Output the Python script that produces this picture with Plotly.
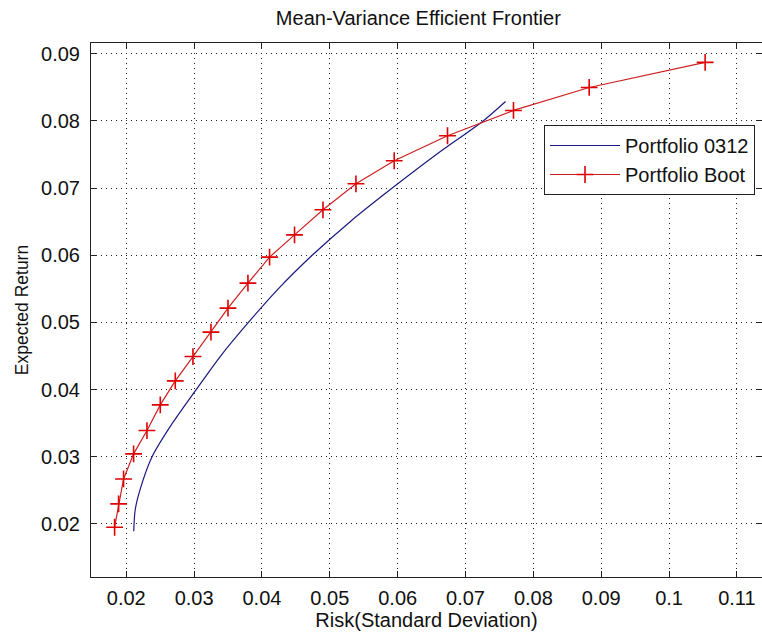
import plotly.graph_objects as go

# Portfolio 0312 (blue line)
p0312_risk = [0.0211, 0.0213, 0.0220, 0.0238, 0.0268, 0.0303, 0.0339, 0.0380,
              0.0424, 0.0474, 0.0530, 0.0592, 0.0657, 0.0726, 0.0759]
p0312_ret = [0.0189, 0.0220, 0.0250, 0.0300, 0.0350, 0.0400, 0.0450, 0.0500,
             0.0550, 0.0600, 0.0650, 0.0700, 0.0750, 0.0800, 0.0829]

# Portfolio Boot (red line with + markers)
boot_risk = [0.01828, 0.01887, 0.01960, 0.02108, 0.02305, 0.02501, 0.02722, 0.02983,
             0.03248, 0.03499, 0.03793, 0.04112, 0.04480, 0.04899, 0.05385, 0.05949,
             0.06735, 0.07707, 0.08823, 0.10532]
boot_ret = [0.01951, 0.02298, 0.02670, 0.03043, 0.03390, 0.03772, 0.04130, 0.04492,
            0.04855, 0.05213, 0.05585, 0.05972, 0.06304, 0.06677, 0.07064, 0.07407,
            0.07779, 0.08156, 0.08498, 0.08871]

x_ticks = [0.02, 0.03, 0.04, 0.05, 0.06, 0.07, 0.08, 0.09, 0.1, 0.11]
x_tick_text = ["0.02", "0.03", "0.04", "0.05", "0.06", "0.07", "0.08", "0.09", "0.1", "0.11"]
y_ticks = [0.02, 0.03, 0.04, 0.05, 0.06, 0.07, 0.08, 0.09]
y_tick_text = ["0.02", "0.03", "0.04", "0.05", "0.06", "0.07", "0.08", "0.09"]

FONT = "Liberation Sans, Arial, sans-serif"

fig = go.Figure()
fig.add_trace(go.Scatter(
    x=p0312_risk, y=p0312_ret, mode="lines", name="Portfolio 0312",
    line=dict(color="#1a1a80", width=1.2, shape="spline", smoothing=0.7),
))
fig.add_trace(go.Scatter(
    x=boot_risk, y=boot_ret, mode="lines+markers", name="Portfolio Boot",
    line=dict(color="#cc2020", width=1.2),
    marker=dict(symbol="cross-thin-open", size=12, color="#e00000",
                line=dict(color="#e00000", width=1.6)),
))

axis_common = dict(
    showline=True, linecolor="#222", linewidth=1, mirror="ticks",
    ticks="inside", ticklen=6, tickcolor="#222", tickwidth=1,
    showgrid=True, gridcolor="#222", gridwidth=1, griddash="1px,4px",
    zeroline=False, tickfont=dict(family=FONT, size=20, color="#111"),
)

fig.update_layout(
    width=762, height=635,
    margin=dict(l=91, r=0, t=43, b=58),
    paper_bgcolor="white", plot_bgcolor="white",
    title=dict(text="Mean-Variance Efficient Frontier", x=0.549, xanchor="center",
               y=1 - 18 / 635, yref="container", yanchor="middle",
               font=dict(family=FONT, size=20, color="#111")),
    xaxis=dict(range=[0.0148, 0.1137], tickvals=x_ticks, ticktext=x_tick_text,
               ticklabelstandoff=3,
               title=dict(text="Risk(Standard Deviation)", standoff=4,
                          font=dict(family=FONT, size=20, color="#111")),
               **axis_common),
    yaxis=dict(range=[0.0121, 0.0916], tickvals=y_ticks, ticktext=y_tick_text,
               ticklabelstandoff=6,
               title=dict(text="Expected Return", standoff=7,
                          font=dict(family=FONT, size=17.5, color="#111")),
               **axis_common),
    legend=dict(x=0.9896, xanchor="right", y=0.8464, yanchor="top",
                bgcolor="white", bordercolor="#222", borderwidth=1,
                font=dict(family=FONT, size=20, color="#111"),
                itemwidth=70, tracegroupgap=0),
    showlegend=True,
)

fig.write_html("out.html")
